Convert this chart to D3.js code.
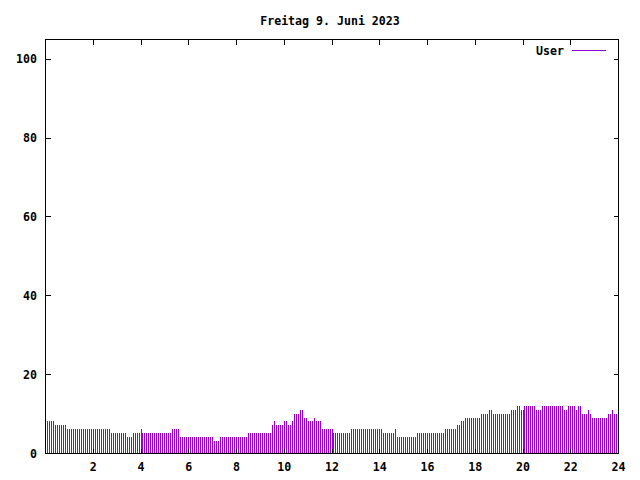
<!DOCTYPE html>
<html><head><meta charset="utf-8">
<script src="https://cdn.jsdelivr.net/npm/d3@7"></script>
<style>
html,body{margin:0;padding:0;background:#fff;}
svg text{font-family:"DejaVu Sans Mono","Liberation Mono",monospace;font-weight:bold;font-size:11.6px;fill:#000;}
</style></head>
<body>
<script>
const title = "Freitag 9. Juni 2023";
const seriesName = "User";
const xTicks = [2,4,6,8,10,12,14,16,18,20,22,24];
const yTicks = [0,20,40,60,80,100];
const stepMinutes = 5;
const userValues = [
8,8,8,8,8,7,7,7,7,7,7,6,6,6,6,6,6,6,6,6,6,6,6,6,6,6,6,6,6,6,6,6,6,5,5,5,5,5,5,5,5,4,4,4,5,5,5,5,
6,5,5,5,5,5,5,5,5,5,5,5,5,5,5,5,6,6,6,6,4,4,4,4,4,4,4,4,4,4,4,4,4,4,4,4,4,3,3,3,4,4,4,4,4,4,4,4,
4,4,4,4,4,4,5,5,5,5,5,5,5,5,5,5,5,5,7,8,7,7,7,7,8,8,7,7,8,10,10,10,11,11,9,9,8,8,8,9,8,8,8,6,6,6,
6,6,6,5,5,5,5,5,5,5,5,5,6,6,6,6,6,6,6,6,6,6,6,6,6,6,6,6,5,5,5,5,5,5,6,4,4,4,4,4,4,4,4,4,4,5,5,5,
5,5,5,5,5,5,5,5,5,5,5,6,6,6,6,6,6,7,7,8,8,9,9,9,9,9,9,9,9,10,10,10,10,11,11,10,10,10,10,10,10,10,10,10,11,11,11,
12,12,11,11,12,12,12,12,12,12,11,11,11,12,12,12,12,12,12,12,12,12,12,12,11,11,12,12,12,12,11,12,12,10,10,10,11,10,
9,9,9,9,9,9,9,9,10,10,11,10,10
];

const W = 640, H = 480;
const mLeft = 45, mRight = 618, mTop = 39, mBottom = 453;
const svg = d3.select("body").append("svg").attr("width", W).attr("height", H);

const x = d3.scaleLinear().domain([0, 24]).range([mLeft, mRight]);
const y = d3.scaleLinear().domain([0, 105]).range([mBottom, mTop]);

const data = userValues.map((v, i) => ({h: i * stepMinutes / 60, v: v}));

// bars (impulses)
svg.append("g").attr("shape-rendering", "crispEdges")
  .selectAll("rect").data(data).join("rect")
  .attr("x", d => Math.floor(x(d.h) + 0.5))
  .attr("width", 1)
  .attr("y", d => Math.round(y(d.v)))
  .attr("height", d => mBottom - Math.round(y(d.v)))
  .attr("fill", "#9400d3");

// border
const g = svg.append("g").attr("shape-rendering", "crispEdges").attr("stroke", "#000").attr("stroke-width", 1);
g.append("rect").attr("x", mLeft + 0.5).attr("y", mTop + 0.5)
  .attr("width", mRight - mLeft).attr("height", mBottom - mTop).attr("fill", "none");

const tl = 5;
xTicks.forEach(t => {
  const px = Math.floor(x(t) + 0.5) + 0.5;
  g.append("line").attr("x1", px).attr("x2", px).attr("y1", mBottom + 0.5).attr("y2", mBottom + 0.5 - tl);
  g.append("line").attr("x1", px).attr("x2", px).attr("y1", mTop + 0.5).attr("y2", mTop + 0.5 + tl);
  svg.append("text").attr("x", x(t) + 0.5).attr("y", mBottom + 18).attr("text-anchor", "middle").text(t);
});
yTicks.forEach(t => {
  const py = Math.round(y(t)) + 0.5;
  g.append("line").attr("x1", mLeft + 0.5).attr("x2", mLeft + 0.5 + tl).attr("y1", py).attr("y2", py);
  g.append("line").attr("x1", mRight + 0.5).attr("x2", mRight + 0.5 - tl).attr("y1", py).attr("y2", py);
  svg.append("text").attr("x", 37).attr("y", y(t) + 4.5).attr("text-anchor", "end").text(t);
});

svg.append("text").attr("x", 330).attr("y", 25).attr("text-anchor", "middle").text(title);

svg.append("text").attr("x", 564).attr("y", 55).attr("text-anchor", "end").text(seriesName);
svg.append("rect").attr("x", 572).attr("y", 50).attr("width", 34).attr("height", 1)
  .attr("fill", "#9400d3").attr("shape-rendering", "crispEdges");
</script>
</body></html>
